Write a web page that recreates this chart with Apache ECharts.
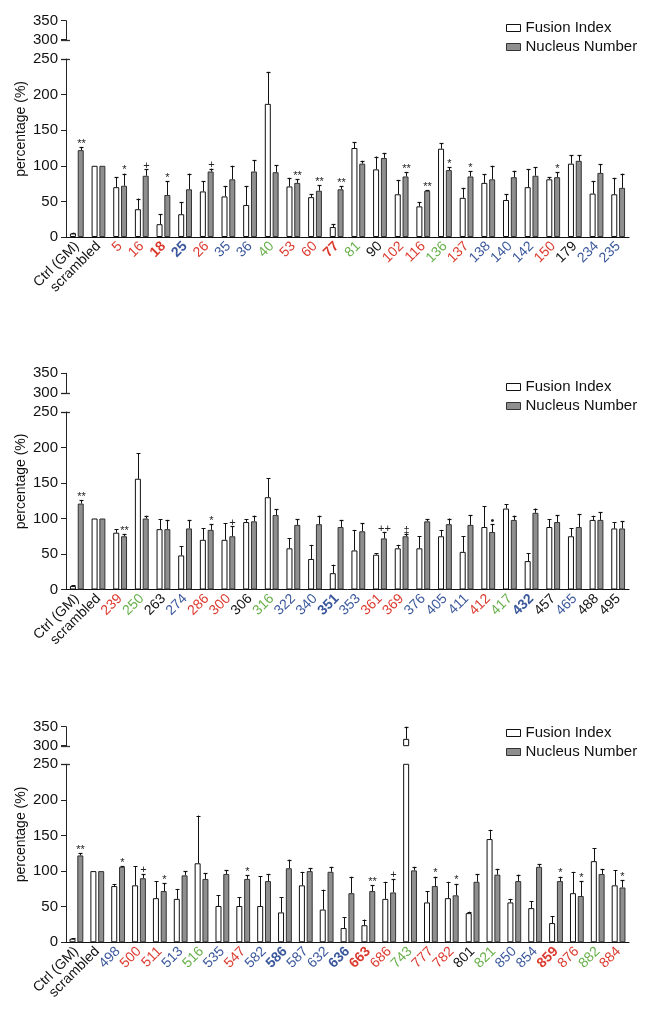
<!DOCTYPE html>
<html><head><meta charset="utf-8">
<script src="https://cdn.jsdelivr.net/npm/echarts@6/dist/echarts.min.js"></script>
<style>html,body{margin:0;padding:0;background:#fff}#c{width:649px;height:1022px}</style>
</head><body><div id="c"></div>
<script>
// ---------- DATA ----------
const cats1 = ['Ctrl (GM)','scrambled','5','16','18','25','26','35','36','40','53','60','77','81','90','102','116','136','137','138','140','142','150','179','234','235'];
const style1 = ['k','k','r','r','rb','bb','r','b','b','g','r','r','rb','g','k','r','r','g','r','b','b','b','r','k','b','b'];
const fi1 = [5,100,70,39,18,32,64,57,45,187,71,56,14,125,95,60,43,124,55,76,52,70,81,103,61,60];
const fiErr1 = [1,0,14,15,14,17,14,14,26,45,12,4,4,8,18,20,6,8,14,12,8,25,3,12,17,23];
const nn1 = [122,100,72,86,59,67,92,81,92,91,76,65,67,103,111,85,65,94,85,81,84,86,84,107,90,69];
const nnErr1 = [4,0,17,9,19,22,4,19,16,10,5,8,4,4,7,6,1,4,7,19,9,12,7,8,12,20];
const stars1 = ['**','','*','+','*','','+','','','','**','**','**','','','**','**','*','*','','','','*','','',''];

const cats2 = ['Ctrl (GM)','scrambled','239','250','263','274','286','300','306','316','322','340','351','353','361','369','376','405','411','412','417','432','457','465','488','495'];
const style2 = ['k','k','r','g','k','b','r','r','k','g','b','b','bb','b','r','r','b','b','b','r','g','bb','k','b','k','k'];
const fi2 = [5,100,80,156,85,48,70,70,95,130,58,43,23,55,49,58,58,75,53,88,114,40,88,75,98,86];
const fiErr2 = [1,0,5,36,14,13,16,23,4,27,14,20,12,29,2,5,17,9,22,29,6,11,11,11,6,9];
const nn2 = [121,100,75,100,85,86,84,75,96,105,91,92,88,82,72,75,96,92,91,81,98,108,95,88,98,86];
const nnErr2 = [5,0,3,4,13,12,8,14,8,8,8,12,10,11,9,3,3,8,14,11,6,6,10,18,11,10];
const stars2 = ['**','','**','','','','*','+','','','','','','','++','\u2021','','','','\u2022','','','','','',''];

const cats3 = ['Ctrl (GM)','scrambled','498','500','511','513','516','535','547','582','586','587','632','636','663','686','743','777','782','801','821','850','854','859','876','882','884'];
const style3 = ['k','k','b','r','r','b','g','b','r','b','bb','b','b','bb','rb','r','g','r','r','k','g','b','b','rb','r','g','r'];
const fi3 = [5,100,79,80,62,61,111,51,51,51,42,80,46,20,24,61,318,56,62,41,145,56,48,27,69,114,80];
const fiErr3 = [1,0,3,27,24,14,67,15,12,42,21,19,28,15,8,24,32,16,23,2,13,5,10,10,30,18,21];
const nn3 = [122,100,106,90,72,94,89,96,89,86,104,100,99,69,72,70,101,79,66,85,95,86,106,86,65,96,77];
const nnErr3 = [3,0,1,6,11,6,8,5,5,10,12,4,7,23,8,19,5,13,16,11,8,9,4,6,21,7,10];
const stars3 = ['**','','*','+','*','','','','*','','','','','','**','+','','*','*','','','','','*','*','','*'];

const yTicksLow = [0, 250, 50];   // min, max, interval
const yTicksHigh = [300, 350, 50];
const seriesNames = ['Fusion Index', 'Nucleus Number'];
const yTitle = 'percentage (%)';

// ---------- STYLE / LAYOUT ----------
const FONT = 'Arial, "Liberation Sans", sans-serif';
const LEFT = 66, RIGHT = 20;
const BW = 6, OFF = 3.9;
const layout = [
  {upTop: 20.7, upH: 19, loTop: 59, loH: 178, legTop: 15},
  {upTop: 373.3, upH: 19.7, loTop: 412, loH: 177.5, legTop: 374},
  {upTop: 726.7, upH: 19, loTop: 764.3, loH: 178, legTop: 720}
];
const COLORS = {k:'#111111', r:'#dc3a2f', b:'#3b589c', g:'#67b04a'};
const rich = {};
Object.keys(COLORS).forEach(k => {
  rich[k] = {color: COLORS[k], fontSize: 14, fontFamily: FONT};
  rich[k + 'b'] = {color: COLORS[k], fontSize: 14, fontFamily: FONT, fontWeight: 'bold'};
});
const WHITE = {color:'#ffffff', borderColor:'#111', borderWidth:1};
const GRAY = {color:'#8f8f8f', borderColor:'#333', borderWidth:1};

const panels = [
  {cats: cats1, style: style1, fi: fi1, fiErr: fiErr1, nn: nn1, nnErr: nnErr1, stars: stars1},
  {cats: cats2, style: style2, fi: fi2, fiErr: fiErr2, nn: nn2, nnErr: nnErr2, stars: stars2},
  {cats: cats3, style: style3, fi: fi3, fiErr: fiErr3, nn: nn3, nnErr: nnErr3, stars: stars3}
];

function errRender(offset, stars) {
  return function (params, api) {
    const i = api.value(0), v = api.value(1), e = api.value(2);
    const p0 = api.coord([i, v]);
    const p1 = api.coord([i, v + e]);
    const x = Math.round(p0[0] + offset) + 0.5;
    const children = [];
    if (e > 0) {
      children.push({type:'line', shape:{x1:x, y1:p0[1], x2:x, y2:p1[1]}, style:{stroke:'#111', lineWidth:1}});
      children.push({type:'line', shape:{x1:x-2, y1:Math.round(p1[1])+0.5, x2:x+2, y2:Math.round(p1[1])+0.5}, style:{stroke:'#111', lineWidth:1.2}});
    }
    const s = stars ? stars[params.dataIndex] : '';
    if (s) {
      children.push({type:'text', style:{text:s, x:x, y:p1[1]+2, align:'center', verticalAlign:'bottom', fontSize:11, fontFamily:FONT, fill:'#222'}});
    }
    return {type:'group', children};
  };
}

const grid = [], xAxis = [], yAxis = [], series = [], legend = [];
panels.forEach((P, p) => {
  const L = layout[p];
  const gLo = 2 * p, gUp = 2 * p + 1;
  grid.push({left: LEFT, right: RIGHT, top: L.loTop, height: L.loH});
  grid.push({left: LEFT, right: RIGHT, top: L.upTop, height: L.upH});
  xAxis.push({
    gridIndex: gLo, type: 'category', data: P.cats, boundaryGap: true,
    axisLine: {lineStyle: {color: '#111', width: 1}},
    axisTick: {alignWithLabel: true, length: 4, lineStyle: {color: '#111'}},
    axisLabel: {rotate: 45, interval: 0, margin: 7, fontSize: 14, fontFamily: FONT, rich,
      formatter: (v, i) => '{' + P.style[i] + '|' + v + '}'}
  });
  xAxis.push({gridIndex: gUp, type: 'category', data: P.cats, show: false});
  const yCommon = {
    type: 'value', splitLine: {show: false},
    axisLine: {show: true, lineStyle: {color: '#222'}},
    axisTick: {show: true, length: 5, lineStyle: {color: '#222'}},
    axisLabel: {fontSize: 15, color: '#111', fontFamily: FONT, margin: 8}
  };
  yAxis.push(Object.assign({gridIndex: gLo, min: yTicksLow[0], max: yTicksLow[1], interval: yTicksLow[2]}, yCommon));
  yAxis.push(Object.assign({gridIndex: gUp, min: yTicksHigh[0], max: yTicksHigh[1], interval: yTicksHigh[2]}, yCommon));

  series.push({type:'bar', name: seriesNames[0], xAxisIndex: gLo, yAxisIndex: gLo, data: P.fi, barWidth: BW, barGap: '30%', itemStyle: WHITE, clip: true, silent: true});
  series.push({type:'bar', name: seriesNames[1], xAxisIndex: gLo, yAxisIndex: gLo, data: P.nn, barWidth: BW, barGap: '30%', itemStyle: GRAY, clip: true, silent: true});
  series.push({type:'bar', name: seriesNames[0], xAxisIndex: gUp, yAxisIndex: gUp, data: P.fi.map(v => v > yTicksHigh[0] ? v : '-'), barWidth: BW, barGap: '30%', itemStyle: WHITE, clip: true, silent: true});
  series.push({type:'bar', name: seriesNames[1], xAxisIndex: gUp, yAxisIndex: gUp, data: P.nn.map(v => v > yTicksHigh[0] ? v : '-'), barWidth: BW, barGap: '30%', itemStyle: GRAY, clip: true, silent: true});

  series.push({type:'custom', name:'errFI' + p, xAxisIndex: gLo, yAxisIndex: gLo, clip: true, silent: true,
    renderItem: errRender(-OFF, null), data: P.fi.map((v, i) => [i, v, P.fiErr[i]])});
  series.push({type:'custom', name:'errNN' + p, xAxisIndex: gLo, yAxisIndex: gLo, clip: false, silent: true,
    renderItem: errRender(OFF, P.stars), data: P.nn.map((v, i) => [i, v, P.nnErr[i]])});
  const upFI = P.fi.map((v, i) => [i, v, P.fiErr[i]]).filter(d => d[1] > yTicksHigh[0]);
  if (upFI.length) {
    series.push({type:'custom', name:'errFIu' + p, xAxisIndex: gUp, yAxisIndex: gUp, clip: false, silent: true,
      renderItem: errRender(-OFF, null), data: upFI});
  }
  legend.push({
    data: seriesNames, orient: 'vertical', left: 501, top: L.legTop, icon: 'rect',
    itemWidth: 14, itemHeight: 7, itemGap: 3, selectedMode: false,
    itemStyle: {borderWidth: 1},
    textStyle: {fontSize: 15, fontFamily: FONT, color: '#111', lineHeight: 16}
  });
});

const chart = echarts.init(document.getElementById('c'), null, {renderer: 'canvas'});
chart.setOption({animation: false, backgroundColor: '#fff', grid, xAxis, yAxis, series, legend});

// y titles and axis break marks
const graphic = [];
panels.forEach((P, p) => {
  const lo = chart.convertToPixel({gridIndex: 2 * p}, [0, yTicksLow[1]]);
  const zero = chart.convertToPixel({gridIndex: 2 * p}, [0, yTicksLow[0]]);
  const up = chart.convertToPixel({gridIndex: 2 * p + 1}, [0, yTicksHigh[0]]);
  const top = chart.convertToPixel({gridIndex: 2 * p + 1}, [0, yTicksHigh[1]]);
  [lo[1], up[1]].forEach(y => {
    graphic.push({type:'line', shape:{x1: LEFT - 5, y1: Math.round(y) + 0.5, x2: LEFT + 4, y2: Math.round(y) + 0.5},
      style:{stroke:'#333', lineWidth: 1.3}, silent: true});
  });
  graphic.push({type:'text', x: 21, y: (top[1] + zero[1]) / 2, rotation: Math.PI / 2, silent: true,
    style:{text: yTitle, fontSize: 14, fontFamily: FONT, fill: '#111', align: 'center', verticalAlign: 'middle'}});
});
chart.setOption({graphic});
</script>
</body></html>
